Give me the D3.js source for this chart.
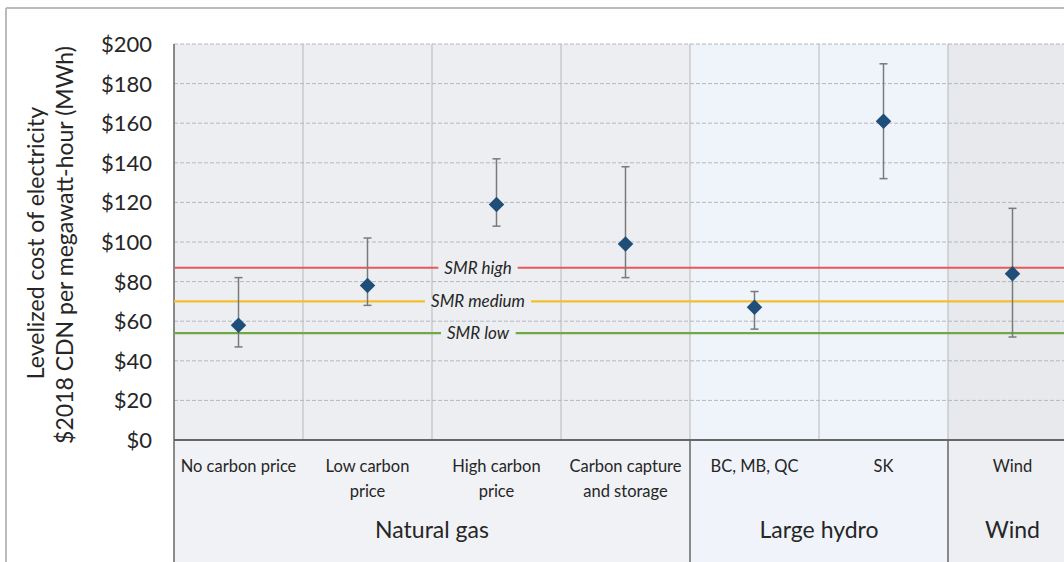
<!DOCTYPE html>
<html>
<script src="https://d3js.org/d3.v7.min.js"></script>
<style>
    body { margin: 0; background: #fff; }
    text { font-family: Lato, "Open Sans", sans-serif; fill: #262626; }
</style>
<body></body>
<script>
    const width = 1064, height = 562;
    const categories = ["No carbon price", "Low carbon price", "High carbon price", "Carbon capture and storage", "BC, MB, QC", "SK", "Wind"];
    const catLines = [["No carbon price"], ["Low carbon", "price"], ["High carbon", "price"], ["Carbon capture", "and storage"], ["BC, MB, QC"], ["SK"], ["Wind"]];
    const groups = ["Natural gas", "Large hydro", "Wind"];
    const groupOf = ["Natural gas", "Natural gas", "Natural gas", "Natural gas", "Large hydro", "Large hydro", "Wind"];
    const mid = [58, 78, 119, 99, 67, 161, 84];
    const low = [47, 68, 108, 82, 56, 132, 52];
    const high = [82, 102, 142, 138, 75, 190, 117];
    const smrNames = ["SMR high", "SMR medium", "SMR low"];
    const smrValues = [87, 70, 54];
    const smrColors = ["#e8585a", "#f2bf2f", "#6fa945"];
    const yTicks = [0, 20, 40, 60, 80, 100, 120, 140, 160, 180, 200];

    const svg = d3.select("body").append("svg").attr("width", width).attr("height", height);
    const x = d3.scaleBand().domain(categories).range([174, 174 + 7 * 129]);
    const y = d3.scaleLinear().domain([0, 200]).range([440, 44]);
    const groupBg = { "Natural gas": "#eceef1", "Large hydro": "#eff3fa", "Wind": "#e8e9ec" };
    const labelBg = { "Natural gas": "#f1f2f5", "Large hydro": "#f0f4fa", "Wind": "#eeeff2" };

    // outer frame
    svg.append("line").attr("x1", 6).attr("x2", width).attr("y1", 8).attr("y2", 8).attr("stroke", "#bbb").attr("stroke-width", 2);
    svg.append("line").attr("x1", 6).attr("x2", 6).attr("y1", 8).attr("y2", height).attr("stroke", "#bbb").attr("stroke-width", 2);

    // column backgrounds
    svg.selectAll(".bg").data(categories).join("rect")
        .attr("x", d => x(d)).attr("y", y(200))
        .attr("width", x.bandwidth()).attr("height", y(0) - y(200))
        .attr("fill", (d, i) => groupBg[groupOf[i]]);
    svg.selectAll(".lbg").data(categories).join("rect")
        .attr("x", d => x(d)).attr("y", y(0))
        .attr("width", x.bandwidth()).attr("height", height - y(0))
        .attr("fill", (d, i) => labelBg[groupOf[i]]);

    // dashed grid
    svg.selectAll(".grid").data(yTicks.slice(1)).join("line")
        .attr("x1", 174).attr("x2", width)
        .attr("y1", d => y(d)).attr("y2", d => y(d))
        .attr("stroke", "#b5b8bd").attr("stroke-width", 1).attr("stroke-dasharray", "4,2");

    // column separators in plot
    svg.selectAll(".sep").data(categories.slice(1)).join("line")
        .attr("x1", d => x(d)).attr("x2", d => x(d))
        .attr("y1", y(200)).attr("y2", y(0))
        .attr("stroke", "#b8b8b8").attr("stroke-width", 1);

    // group separators in label area
    const groupStarts = categories.filter((c, i) => i === 0 || groupOf[i] !== groupOf[i - 1]);
    svg.selectAll(".gsep").data(groupStarts).join("line")
        .attr("x1", d => x(d)).attr("x2", d => x(d))
        .attr("y1", (d, i) => i === 0 ? y(200) : y(0)).attr("y2", height)
        .attr("stroke", "#666").attr("stroke-width", 1.5);
    svg.append("line").attr("x1", 174).attr("x2", width).attr("y1", y(0)).attr("y2", y(0))
        .attr("stroke", "#666").attr("stroke-width", 2);

    // y axis labels
    svg.selectAll(".ytick").data(yTicks).join("text")
        .attr("x", 152).attr("y", d => y(d) + 8)
        .attr("text-anchor", "end").attr("font-size", 22)
        .text(d => "$" + d);

    svg.append("text").attr("transform", "translate(44,243) rotate(-90)")
        .attr("text-anchor", "middle").attr("font-size", 23)
        .text("Levelized cost of electricity");
    svg.append("text").attr("transform", "translate(73,245) rotate(-90)")
        .attr("text-anchor", "middle").attr("font-size", 23)
        .text("$2018 CDN per megawatt-hour (MWh)");

    // SMR lines
    const smrX = 478;
    smrValues.forEach((v, i) => {
        svg.append("line").attr("x1", 174).attr("x2", width)
            .attr("y1", y(v)).attr("y2", y(v))
            .attr("stroke", smrColors[i]).attr("stroke-width", 2.2);
        const t = svg.append("text").attr("x", smrX).attr("y", y(v) + 6)
            .attr("text-anchor", "middle").attr("font-size", 17).attr("font-style", "italic")
            .text(smrNames[i]);
        const bb = t.node().getBBox();
        svg.insert("rect", () => t.node())
            .attr("x", bb.x - 6).attr("y", y(v) - 3).attr("width", bb.width + 12).attr("height", 6)
            .attr("fill", groupBg["Natural gas"]);
    });

    // error bars
    const cx = d => x(d) + x.bandwidth() / 2;
    const eb = svg.selectAll(".eb").data(categories).join("g");
    eb.append("line").attr("x1", cx).attr("x2", cx)
        .attr("y1", (d, i) => y(high[i])).attr("y2", (d, i) => y(low[i]))
        .attr("stroke", "#7a7a7a").attr("stroke-width", 1.5);
    eb.append("line").attr("x1", d => cx(d) - 4).attr("x2", d => cx(d) + 4)
        .attr("y1", (d, i) => y(high[i])).attr("y2", (d, i) => y(high[i]))
        .attr("stroke", "#7a7a7a").attr("stroke-width", 1.5);
    eb.append("line").attr("x1", d => cx(d) - 4).attr("x2", d => cx(d) + 4)
        .attr("y1", (d, i) => y(low[i])).attr("y2", (d, i) => y(low[i]))
        .attr("stroke", "#7a7a7a").attr("stroke-width", 1.5);

    // diamonds
    svg.selectAll(".pt").data(categories).join("path")
        .attr("d", d3.symbol().type(d3.symbolSquare).size(120))
        .attr("transform", (d, i) => `translate(${cx(d)},${y(mid[i])}) rotate(45)`)
        .attr("fill", "#1f4e79");

    // category labels
    const cl = svg.selectAll(".cl").data(categories).join("text")
        .attr("text-anchor", "middle").attr("font-size", 16.5);
    cl.selectAll("tspan").data((d, i) => catLines[i].map(s => ({ s, d }))).join("tspan")
        .attr("x", o => cx(o.d)).attr("y", (o, j) => 472 + j * 25)
        .text(o => o.s);

    // group labels
    svg.selectAll(".gl").data(groups).join("text")
        .attr("x", g => {
            const cs = categories.filter((c, i) => groupOf[i] === g);
            return (x(cs[0]) + x(cs[cs.length - 1]) + x.bandwidth()) / 2;
        })
        .attr("y", 538).attr("text-anchor", "middle").attr("font-size", 23)
        .text(g => g);
</script>
</html>
